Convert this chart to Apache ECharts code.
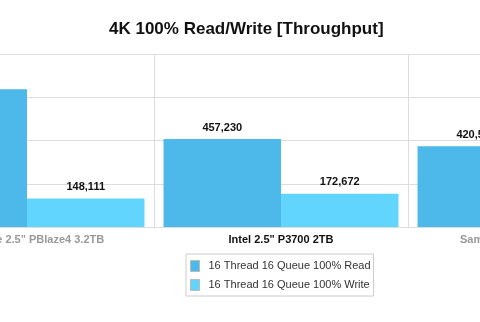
<!DOCTYPE html>
<html>
<head>
<meta charset="utf-8">
<script src="https://cdn.jsdelivr.net/npm/echarts@6/dist/echarts.min.js"></script>
<style>
html,body{margin:0;padding:0;background:#fff;overflow:hidden;width:480px;height:322px;position:relative;}
#chart{position:absolute;left:-100px;top:0;width:762px;height:322px;}
</style>
</head>
<body>
<div id="chart"></div>
<script>
var categories = ['Memblaze 2.5" PBlaze4 3.2TB', 'Intel 2.5" P3700 2TB', 'Samsung 2.5" PM1725 3.2TB'];
var readValues = [716300, 457230, 420512];
var writeValues = [148111, 172672, 160000];
var seriesNames = ['16 Thread 16 Queue 100% Read', '16 Thread 16 Queue 100% Write'];
var yMax = 900000;
var yInterval = 225000;

var font = '"Liberation Sans", Arial, Helvetica, sans-serif';
var chart = echarts.init(document.getElementById('chart'));
function fmt(p){ return Number(p.value).toLocaleString('en-US'); }
chart.setOption({
  animation: false,
  title: {
    text: '4K 100% Read/Write [Throughput]',
    left: 209, top: 21, padding: 0,
    textStyle: {fontFamily: font, fontSize: 17, fontWeight: 'bold', color: '#111'}
  },
  legend: {
    orient: 'vertical',
    left: 286, top: 254,
    padding: [6, 3, 5, 4],
    itemGap: 7,
    itemWidth: 9, itemHeight: 11,
    icon: 'rect',
    borderColor: '#ccc', borderWidth: 1,
    textStyle: {fontFamily: font, fontSize: 11, color: '#333', padding: [0, 0, 0, 4]},
    itemStyle: {borderColor: '#bbb', borderWidth: 1},
    data: seriesNames
  },
  grid: {left: 0, right: 0, top: 54, bottom: 95},
  xAxis: {
    type: 'category',
    data: categories,
    axisLine: {show: true, lineStyle: {color: '#ddd'}},
    axisTick: {show: false},
    splitLine: {show: true, lineStyle: {color: '#ddd', width: 1}},
    axisLabel: {
      interval: 0,
      margin: 7,
      fontFamily: font, fontSize: 11, fontWeight: 'bold',
      color: function (v) { return v === categories[1] ? '#111' : '#999'; }
    }
  },
  yAxis: {
    type: 'value',
    min: 0, max: yMax, interval: yInterval,
    axisLabel: {show: false},
    axisLine: {show: false},
    axisTick: {show: false},
    splitLine: {lineStyle: {color: '#ddd', width: 1}}
  },
  series: [
    {
      name: seriesNames[0], type: 'bar', data: readValues,
      barGap: '0%', barCategoryGap: '7.5%',
      itemStyle: {color: '#4db9ea'},
      label: {show: true, position: 'top', distance: 6, formatter: fmt,
        fontFamily: font, fontSize: 11, fontWeight: 'bold', color: '#111'}
    },
    {
      name: seriesNames[1], type: 'bar', data: writeValues,
      barGap: '0%', barCategoryGap: '7.5%',
      itemStyle: {color: '#62d5fe'},
      label: {show: true, position: 'top', distance: 6, formatter: fmt,
        fontFamily: font, fontSize: 11, fontWeight: 'bold', color: '#111'}
    }
  ]
});
</script>
</body>
</html>
